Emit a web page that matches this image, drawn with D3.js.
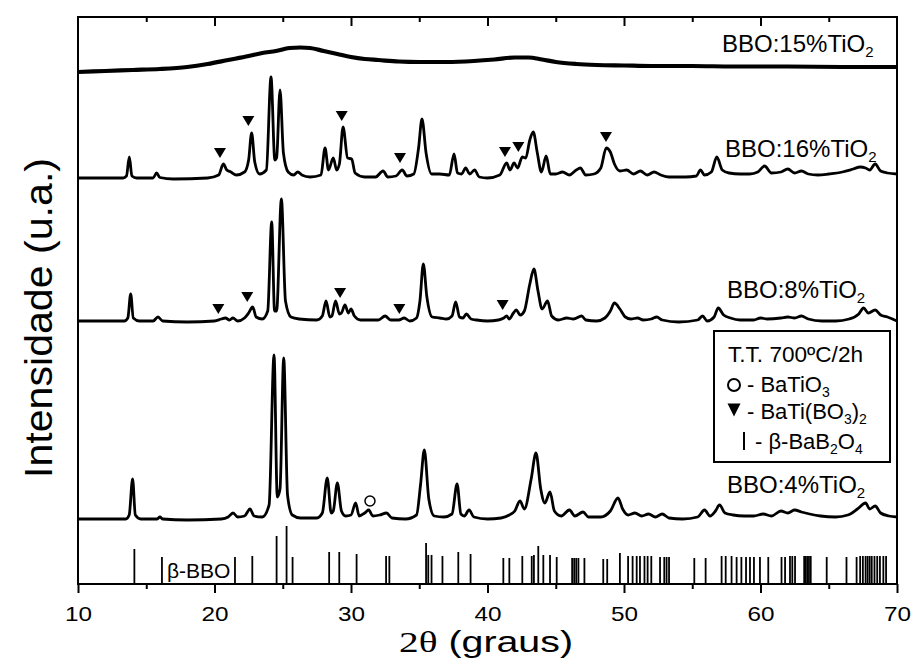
<!DOCTYPE html>
<html>
<head>
<meta charset="utf-8">
<script src="https://cdn.jsdelivr.net/npm/d3@7"></script>
<style>
  html, body { margin: 0; padding: 0; background: #fff; }
  svg { display: block; }
  text { font-family: "Liberation Sans", Arial, Helvetica, sans-serif; fill: #000; }
</style>
</head>
<body>
<svg id="chart" width="915" height="666"></svg>
<script>
// XRD patterns of BBO:TiO2 samples, heat treated at 700 ºC / 2 h.
// Each pattern is a list of [2θ, intensity above its own baseline] points (u.a.).

const xTicksMajor = [10, 20, 30, 40, 50, 60, 70];
const xTicksMinor = [15, 25, 35, 45, 55, 65];

const seriesNames = ["BBO:15%TiO", "BBO:16%TiO", "BBO:8%TiO", "BBO:4%TiO"];
// vertical stacking offsets of each pattern (u.a.)
const seriesOffsets = [512, 406, 263, 65];

const pattern15 = [
  [10,0],[12,1],[14,2],[16,3],[18,5],[19.5,8],[21,12],[22.5,16],[23.5,19],[24.5,21],
  [25.5,24],[26.3,24.5],[27,24],[28,21],[29,18],[30,15],[31,13],[32,12],[33.5,10.5],
  [35,10],[37,10],[39,11],[40.5,12.5],[42,14.5],[43,14.5],[44,12.5],[45,10],[46.5,8],
  [48,7],[50,6.5],[52,6],[55,6],[58,5.5],[62,5.5],[66,5],[70,5]
];

const pattern16 = [
  [10,0],[13.3,0],[13.55,2],[13.76,21],[13.95,2],[14.3,0],[15.5,0],[15.76,5],[16.0,0.5],
  [17,-1],[19.5,0],[20.3,3],[20.65,14],[20.9,8],[21.2,6],[21.6,3],[22.2,6],[22.5,18],
  [22.72,45],[22.95,16],[23.3,4],[23.8,8],[24.14,101],[24.42,18],[24.55,20],[24.8,88],
  [25.05,25],[25.4,6],[25.8,3],[26.1,6],[26.4,3],[27.0,1],[27.8,3],[28.1,30],[28.35,8],
  [28.7,20],[28.95,8],[29.15,14],[29.42,51],[29.75,20],[30.05,19],[30.3,5],[31.0,1],
  [31.8,1],[32.35,7],[32.7,1],[33.3,2],[33.75,8],[34.1,2],[34.6,4],[34.95,30],[35.2,59],
  [35.5,25],[35.9,4],[36.5,4],[37.2,3],[37.55,24],[37.8,5],[38.1,4],[38.4,10],[38.7,4],
  [39.05,8],[39.4,1],[40,0],[40.9,3],[41.4,15],[41.65,8],[41.95,15],[42.2,10],[42.55,21],
  [42.8,20],[43.1,38],[43.35,46],[43.65,25],[43.95,6],[44.3,22],[44.6,4],[45.0,4],[45.5,6],
  [46,3],[46.5,8],[46.8,10],[47.2,3],[47.8,4],[48.3,10],[48.7,30],[49.0,26],[49.3,14],
  [49.7,7],[50.2,8],[50.7,4],[51.2,7],[51.7,3],[52.2,6],[52.7,3],[53.3,1],[54.5,1],
  [55.3,2],[55.6,8],[55.9,3],[56.4,6],[56.8,21],[57.2,8],[57.7,5],[58.5,4],[59.2,4],
  [59.8,6],[60.3,12],[60.8,5],[61.5,6],[62.0,9],[62.5,5],[63.0,7],[63.5,4],[64.2,3],
  [65,4],[66,6],[66.8,9],[67.3,11],[67.7,10],[68.0,8],[68.4,14],[68.8,7],[69.3,5],[70,4]
];

const pattern8 = [
  [10,0],[13.4,0],[13.65,3],[13.86,27],[14.05,3],[14.5,0],[15.5,0],[15.86,4],[16.2,0],
  [18,-1],[20.0,0],[20.5,2],[20.8,3],[21.1,1],[21.35,3],[21.7,0],[22.2,3],[22.5,8],
  [22.8,14],[23.05,4],[23.5,2],[23.9,10],[24.19,99],[24.4,10],[24.55,10],[24.9,122],
  [25.2,20],[25.6,4],[26.2,2],[27.5,1],[27.9,5],[28.17,20],[28.45,4],[28.6,5],[28.87,20],
  [29.15,7],[29.3,8],[29.56,16],[29.8,8],[30.0,12],[30.25,5],[30.7,1],[32.0,1],[32.5,5],
  [32.9,1],[33.5,1],[33.9,3],[34.3,0],[34.8,3],[35.05,20],[35.3,57],[35.55,25],[35.95,4],
  [36.5,3],[37.0,2],[37.4,5],[37.67,19],[37.95,4],[38.2,3],[38.45,7],[38.8,2],[39.2,1],
  [40.0,0],[40.8,1],[41.2,3],[41.4,5],[41.6,2],[41.9,8],[42.1,11],[42.4,6],[42.7,10],
  [43.1,37],[43.4,52],[43.7,30],[44.0,12],[44.4,20],[44.7,5],[45.2,1],[45.8,3],[46.3,2],
  [46.9,5],[47.2,1],[48.0,0],[48.6,3],[49.0,10],[49.3,18],[49.7,12],[50.1,4],[50.5,2],
  [51.0,3],[51.4,1],[52.0,2],[52.4,4],[52.8,1],[54.0,-1],[55.4,1],[55.75,5],[56.1,0],
  [56.6,4],[56.9,13],[57.3,6],[57.8,3],[58.5,1],[59.5,1],[60.0,3],[60.5,2],[61.5,3],
  [62.0,4],[62.5,3],[63.0,5],[63.5,2],[64.5,0],[65.5,0],[66.5,2],[67.2,7],[67.55,13],
  [67.9,8],[68.4,11],[68.8,6],[69.3,4],[70,0]
];

const pattern4 = [
  [10,0],[13.5,0],[13.75,4],[14.0,40],[14.2,4],[14.6,0],[15.8,0],[16.0,2],[16.2,0],
  [18,-1],[20.5,0],[21.0,2],[21.36,6],[21.7,2],[22.2,3],[22.6,10],[22.9,3],[23.5,2],
  [24.0,14],[24.36,164],[24.6,22],[24.8,30],[25.07,161],[25.35,24],[25.7,4],[26.3,1],
  [27.5,1],[27.9,6],[28.26,41],[28.55,6],[28.7,8],[29.0,36],[29.3,8],[29.6,3],[30.0,4],
  [30.34,16],[30.6,3],[31.0,6],[31.3,9],[31.6,3],[32.1,4],[32.6,6],[33.0,1],[34.0,0],
  [34.8,4],[35.1,35],[35.37,69],[35.7,20],[36.1,3],[36.8,2],[37.4,5],[37.77,35],
  [38.05,5],[38.3,3],[38.65,9],[39.0,2],[40.0,0],[41.0,1],[41.6,4],[42.0,8],[42.38,18],
  [42.7,10],[43.2,40],[43.55,66],[43.9,30],[44.2,16],[44.58,27],[44.9,8],[45.4,3],
  [46.0,9],[46.4,3],[47.0,7],[47.4,2],[48.3,2],[49.0,8],[49.56,21],[49.9,10],[50.3,4],
  [50.8,6],[51.3,3],[51.8,5],[52.3,2],[52.8,5],[53.3,1],[54.3,0],[55.4,2],[55.9,9],
  [56.3,3],[56.7,8],[57.0,14],[57.4,6],[58.0,4],[58.8,3],[59.5,3],[60.2,5],[60.8,3],
  [61.5,8],[62.0,6],[62.5,9],[63.0,7],[63.6,5],[64.4,3],[65.5,2],[66.4,4],[67.1,10],
  [67.7,16],[68.0,10],[68.4,13],[68.8,6],[69.4,3],[70,2]
];

const patterns = [pattern15, pattern16, pattern8, pattern4];

// β-BaB2O4 reference lines: [2θ, relative intensity]
const bboLines = [
  [14.13,35],[16.15,27],[21.5,27],[22.77,28],[24.55,48],[25.28,58],[25.72,27],[28.4,32],
  [29.14,32],[30.41,30],[32.57,28],[32.81,28],[35.5,41],[35.66,29],[35.9,29],[36.7,28],
  [37.86,32],[38.76,30],[41.16,26],[41.6,26],[42.55,28],[43.24,28],[43.4,29],[43.72,38],
  [44.09,29],[44.58,29],[45.07,27],[46.2,26],[46.35,26],[46.5,26],[46.66,26],[47.1,26],
  [48.48,25],[48.77,25],[49.7,31],[50.3,28],[50.63,28],[50.93,28],[51.17,28],[51.5,28],
  [51.73,28],[52.0,28],[52.64,27],[52.95,27],[53.12,27],[53.3,27],[55.15,26],[55.98,26],
  [57.15,28],[57.45,28],[57.88,28],[58.25,27],[58.6,27],[58.94,27],[59.23,27],[59.52,27],
  [59.96,27],[60.57,27],[61.54,27],[61.8,27],[62.16,28],[62.33,28],[62.53,28],[63.2,28],
  [63.3,28],[63.42,28],[63.55,28],[63.68,28],[64.85,27],[66.3,27],[67.04,27],[67.3,28],
  [67.5,28],[67.7,28],[67.85,28],[68.0,28],[68.15,28],[68.35,28],[68.55,28],[68.75,28],
  [69.0,28],[69.2,28]
];

// BaTi(BO3)2 marks: [series index, 2θ, height above that baseline]
const triangleMarks = [
  [1,20.40,25],[1,22.48,57],[1,29.32,62],[1,33.59,20],[1,41.28,26],[1,42.26,31],[1,48.68,41],
  [2,20.28,12],[2,22.40,24],[2,29.20,28],[2,33.54,12],[2,41.11,16]
];
// BaTiO3 marks
const circleMarks = [[3,31.39,18]];

const svg = d3.select("#chart");
const plotLeft = 78, plotRight = 897, plotTop = 17, plotBottom = 584;

const x = d3.scaleLinear().domain([10, 70]).range([plotLeft, plotRight]);
const y = d3.scaleLinear().domain([0, 567]).range([plotBottom, plotTop]);

// patterns
const line = d3.line()
  .x(d => x(d[0]))
  .y(d => y(d[1]))
  .curve(d3.curveMonotoneX);

patterns.forEach((p, i) => {
  svg.append("path")
    .datum(p.map(d => [d[0], d[1] + seriesOffsets[i]]))
    .attr("d", line)
    .attr("fill", "none")
    .attr("stroke", "#000")
    .attr("stroke-width", i === 0 ? 4.2 : 2.8)
    .attr("stroke-linejoin", "round");
});

// reference stick pattern
svg.append("g").selectAll("line")
  .data(bboLines)
  .join("line")
  .attr("x1", d => x(d[0])).attr("x2", d => x(d[0]))
  .attr("y1", y(0)).attr("y2", d => y(d[1]))
  .attr("stroke", "#000").attr("stroke-width", 1.8);

svg.append("text")
  .attr("x", 167).attr("y", 578)
  .attr("font-size", 21)
  .text("β-BBO");

// phase marks
const triPath = (cx, cy, w, h) =>
  `M${cx - w / 2},${cy - h / 2}L${cx + w / 2},${cy - h / 2}L${cx},${cy + h / 2}Z`;

svg.append("g").selectAll("path")
  .data(triangleMarks)
  .join("path")
  .attr("d", d => triPath(x(d[1]), y(d[2] + seriesOffsets[d[0]]), 12, 10))
  .attr("fill", "#000");

svg.append("g").selectAll("circle")
  .data(circleMarks)
  .join("circle")
  .attr("cx", d => x(d[1]))
  .attr("cy", d => y(d[2] + seriesOffsets[d[0]]))
  .attr("r", 5)
  .attr("fill", "#fff").attr("stroke", "#000").attr("stroke-width", 1.5);

// series labels
const labelPos = [[722, 52], [725, 157], [727, 298], [727, 493]];
seriesNames.forEach((name, i) => {
  const t = svg.append("text")
    .attr("x", labelPos[i][0]).attr("y", labelPos[i][1])
    .attr("font-size", 24);
  t.append("tspan").text(name);
  t.append("tspan").attr("dy", 5).attr("font-size", 15).text("2");
});

// frame
svg.append("rect")
  .attr("x", plotLeft).attr("y", plotTop)
  .attr("width", plotRight - plotLeft).attr("height", plotBottom - plotTop)
  .attr("fill", "none").attr("stroke", "#000").attr("stroke-width", 2);

// bottom axis (ticks outward)
const axisMajor = svg.append("g")
  .attr("transform", `translate(0,${plotBottom})`)
  .call(d3.axisBottom(x).tickValues(xTicksMajor).tickSize(9).tickPadding(13).tickSizeOuter(0));
axisMajor.select(".domain").remove();
axisMajor.selectAll("line").attr("stroke-width", 2);
axisMajor.selectAll("text")
  .attr("font-size", 21)
  .attr("font-family", "'Liberation Sans', Arial, sans-serif")
  .attr("textLength", 27)
  .attr("lengthAdjust", "spacingAndGlyphs");

const axisMinor = svg.append("g")
  .attr("transform", `translate(0,${plotBottom})`)
  .call(d3.axisBottom(x).tickValues(xTicksMinor).tickSize(5).tickFormat("").tickSizeOuter(0));
axisMinor.select(".domain").remove();
axisMinor.selectAll("line").attr("stroke-width", 2);

// top axis (ticks inward)
const topMajor = svg.append("g")
  .attr("transform", `translate(0,${plotTop})`)
  .call(d3.axisBottom(x).tickValues(xTicksMajor.slice(1, -1)).tickSize(9).tickFormat("").tickSizeOuter(0));
topMajor.select(".domain").remove();
topMajor.selectAll("line").attr("stroke-width", 2);
const topMinor = svg.append("g")
  .attr("transform", `translate(0,${plotTop})`)
  .call(d3.axisBottom(x).tickValues(xTicksMinor).tickSize(5).tickFormat("").tickSizeOuter(0));
topMinor.select(".domain").remove();
topMinor.selectAll("line").attr("stroke-width", 2);

// axis titles
const xt = svg.append("text")
  .attr("x", 399).attr("y", 652)
  .attr("font-size", 30)
  .attr("textLength", 174)
  .attr("lengthAdjust", "spacingAndGlyphs");
xt.append("tspan").attr("font-family", "'Liberation Serif', 'Times New Roman', serif").text("2θ");
xt.append("tspan").text(" (graus)");

svg.append("text")
  .attr("transform", "translate(52,318) rotate(-90)")
  .attr("text-anchor", "middle")
  .attr("font-size", 38)
  .attr("textLength", 320)
  .attr("lengthAdjust", "spacingAndGlyphs")
  .text("Intensidade (u.a.)");

// legend
const lg = svg.append("g");
lg.append("rect")
  .attr("x", 714).attr("y", 331).attr("width", 176).attr("height", 131)
  .attr("fill", "#fff").attr("stroke", "#000").attr("stroke-width", 2);
lg.append("text").attr("x", 728).attr("y", 362).attr("font-size", 22)
  .attr("textLength", 135).attr("lengthAdjust", "spacingAndGlyphs").text("T.T. 700ºC/2h");

lg.append("circle").attr("cx", 734).attr("cy", 385).attr("r", 6)
  .attr("fill", "#fff").attr("stroke", "#000").attr("stroke-width", 2);
const l1 = lg.append("text").attr("x", 747).attr("y", 392).attr("font-size", 22);
l1.append("tspan").text("- BaTiO");
l1.append("tspan").attr("dy", 5).attr("font-size", 14).text("3");

lg.append("path").attr("d", triPath(734, 410, 13, 13)).attr("fill", "#000");
const l2 = lg.append("text").attr("x", 747).attr("y", 419).attr("font-size", 22);
l2.append("tspan").text("- BaTi(BO");
l2.append("tspan").attr("dy", 5).attr("font-size", 14).text("3");
l2.append("tspan").attr("dy", -5).text(")");
l2.append("tspan").attr("dy", 5).attr("font-size", 14).text("2");

lg.append("line").attr("x1", 744).attr("x2", 744).attr("y1", 432).attr("y2", 450)
  .attr("stroke", "#000").attr("stroke-width", 2);
const l3 = lg.append("text").attr("x", 755).attr("y", 449).attr("font-size", 22);
l3.append("tspan").text("- β-BaB");
l3.append("tspan").attr("dy", 5).attr("font-size", 14).text("2");
l3.append("tspan").attr("dy", -5).text("O");
l3.append("tspan").attr("dy", 5).attr("font-size", 14).text("4");
</script>
</body>
</html>
